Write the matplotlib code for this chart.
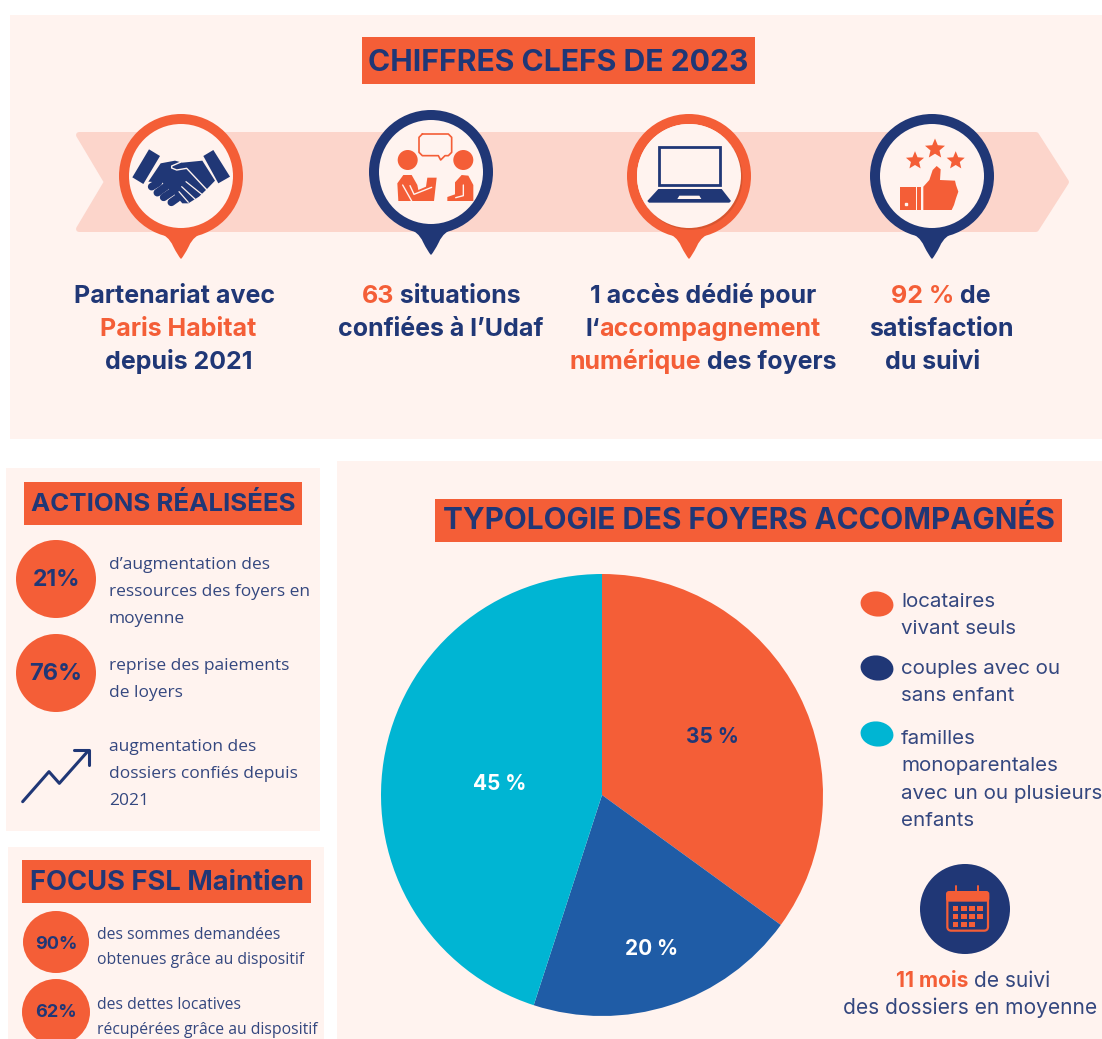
import numpy as np
import matplotlib
matplotlib.use('Agg')

import matplotlib.pyplot as plt
from matplotlib.patches import Circle, Ellipse, FancyBboxPatch, PathPatch, Polygon, Rectangle
from matplotlib.path import Path

ORANGE = '#F45E37'
NAVY = '#203776'
BLUE = '#1F5CA6'
CYAN = '#00B5D3'
PANEL = '#FFF3EF'
BAND = '#FCD5CB'
TEXT = '#34477F'

TITLE_FONT = 'Inter'
BODY_FONT = 'Open Sans'

# pie data
pie_values = [35, 20, 45]
pie_labels = ['35 %', '20 %', '45 %']
pie_colors = [ORANGE, BLUE, CYAN]
pie_label_colors = [NAVY, 'white', 'white']
pie_label_dist = [0.56, 0.72, 0.47]
pie_label_nudge = [0.009, -0.014, -0.023]

legend_labels = [
    ['locataires', 'vivant seuls'],
    ['couples avec ou', 'sans enfant'],
    ['familles', 'monoparentales', 'avec un ou plusieurs', 'enfants'],
]
legend_colors = [ORANGE, NAVY, CYAN]

actions_values = ['21%', '76%']
focus_values = ['90%', '62%']

fig = plt.figure(figsize=(11.02, 10.39), dpi=100, facecolor='white')
ax = fig.add_axes([0, 0, 1, 1])
ax.set_xlim(0, 1102)
ax.set_ylim(1039, 0)
ax.axis('off')


def text_width(s, **kw):
    # the bar keeps trailing and leading spaces in the measure
    r = fig.canvas.get_renderer()
    a = ax.text(0, 0, s + '|', **kw)
    b = ax.text(0, 0, '|', **kw)
    w = a.get_window_extent(r).width - b.get_window_extent(r).width
    a.remove()
    b.remove()
    return w


def rich_line(cx, base, runs, size, weight='bold', other=None):
    """One centred line of (string, colour) runs on a baseline."""
    weights = [weight if other is None or i == 0 else other for i in range(len(runs))]
    widths = [text_width(s, fontsize=size, family=TITLE_FONT, weight=w)
              for (s, _), w in zip(runs, weights)]
    x = cx - sum(widths) / 2
    for (s, col), w, wd in zip(runs, widths, weights):
        ax.text(x, base, s, color=col, fontsize=size, family=TITLE_FONT, weight=wd,
                ha='left', va='baseline')
        x += w


def panel(x0, y0, x1, y1, color=PANEL):
    ax.add_patch(Rectangle((x0, y0), x1 - x0, y1 - y0, fc=color, ec='none'))


def title_box(x0, y0, x1, y1, label, size, base):
    panel(x0, y0, x1, y1, ORANGE)
    ax.text((x0 + x1) / 2, base, label, color=NAVY, fontsize=size,
            family=TITLE_FONT, weight='bold', ha='center', va='baseline')


def pin(cx, cy, tip, color):
    ax.add_patch(Circle((cx, cy), 62, fc=color, ec='none', zorder=2))
    verts = [(cx - 26, cy + 54), (cx - 12, cy + 60), (cx - 8, tip - 12), (cx - 3, tip - 2),
             (cx, tip + 1), (cx + 3, tip - 2), (cx + 8, tip - 12), (cx + 12, cy + 60), (cx + 26, cy + 54)]
    codes = [Path.MOVETO] + [Path.CURVE3] * 8
    ax.add_patch(PathPatch(Path(verts, codes), fc=color, ec='none', zorder=2))
    ax.add_patch(Circle((cx, cy), 52, fc=PANEL, ec='none', zorder=3))


def zoom_pts(pts, ox, oy):
    return [(ox + x / 3, oy + y / 3) for x, y in pts]


def poly(pts, color, ox, oy, z=4):
    ax.add_patch(Polygon(zoom_pts(pts, ox, oy), closed=True, fc=color, ec='none', zorder=z))


def stroke(pts, color, lw, ox, oy, z=5):
    p = np.array(zoom_pts(pts, ox, oy))
    ax.plot(p[:, 0], p[:, 1], color=color, lw=lw, solid_capstyle='round',
            solid_joinstyle='round', zorder=z)


def star(cx, cy, r, color):
    ang = np.deg2rad(np.arange(10) * 36 - 90)
    rad = np.where(np.arange(10) % 2 == 0, r, r * 0.45)
    ax.add_patch(Polygon(np.c_[cx + rad * np.cos(ang), cy + rad * np.sin(ang)],
                         closed=True, fc=color, ec='none', zorder=4))


def handshake():
    ox, oy = 125, 140
    poly([(72, 28), (105, 48), (55, 132), (22, 112)], NAVY, ox, oy)
    poly([(265, 30), (315, 110), (280, 130), (235, 48)], NAVY, ox, oy)
    poly([(107, 70), (150, 62), (172, 68), (232, 62), (270, 122), (245, 148), (222, 170),
          (190, 190), (172, 190), (150, 165), (112, 128), (70, 125)], NAVY, ox, oy)
    # closed fingers on the left
    for a, b in [((80, 140), (100, 128)), ((97, 158), (122, 140)),
                 ((116, 172), (140, 156)), ((139, 187), (156, 175))]:
        stroke([a, b], NAVY, 5.5, ox, oy)
    # thumb and finger gaps
    stroke([(168, 66), (140, 78), (140, 84), (155, 90), (185, 85), (246, 150)], PANEL, 1.0, ox, oy)
    stroke([(183, 125), (233, 165)], PANEL, 0.9, ox, oy)
    stroke([(170, 140), (213, 180)], PANEL, 0.9, ox, oy)
    stroke([(162, 155), (190, 187)], PANEL, 0.9, ox, oy)


def people():
    ox, oy = 390, 125
    ax.add_patch(Circle((407.7, 160), 10, fc=ORANGE, ec='none', zorder=4))
    ax.add_patch(Circle((463.3, 160), 10, fc=ORANGE, ec='none', zorder=4))
    stroke([(97, 27), (175, 27), (185, 37), (185, 82), (175, 92), (165, 92), (152, 105),
            (145, 92), (97, 92), (87, 82), (87, 37), (97, 27)], ORANGE, 1.2, ox, oy)
    poly([(25, 228), (22, 175), (40, 150), (65, 150), (82, 180), (85, 195), (108, 185),
          (112, 158), (140, 158), (132, 228)], ORANGE, ox, oy)
    stroke([(38, 180), (65, 228)], PANEL, 1.0, ox, oy)
    stroke([(60, 182), (72, 208), (125, 187)], PANEL, 1.0, ox, oy)
    poly([(172, 228), (172, 216), (195, 208), (195, 172), (215, 150), (235, 152),
          (250, 180), (250, 228)], ORANGE, ox, oy)
    stroke([(220, 180), (220, 212), (197, 218)], PANEL, 1.0, ox, oy)


def laptop():
    ox, oy = 580, 100
    ax.add_patch(Rectangle((ox + 238 / 3, oy + 142 / 3), 182 / 3, 113 / 3, fc=PANEL, ec=NAVY,
                           lw=2, zorder=4))
    poly([(235, 267), (425, 267), (453, 303), (448, 308), (207, 308), (202, 303)], NAVY, ox, oy)
    poly([(298, 287), (358, 287), (364, 297), (292, 297)], PANEL, ox, oy, z=5)


def thumbs_up():
    ox, oy = 890, 130
    star(935, 149, 10.5, ORANGE)
    star(915, 160.7, 9.5, ORANGE)
    star(955.7, 160.7, 9.5, ORANGE)
    poly([(30, 170), (78, 170), (78, 240), (30, 240)], ORANGE, ox, oy)
    poly([(82, 170), (92, 170), (92, 240), (82, 240)], ORANGE, ox, oy)
    poly([(100, 170), (118, 150), (128, 120), (140, 108), (152, 118), (150, 150), (195, 152),
          (198, 165), (205, 185), (198, 205), (192, 225), (185, 240), (100, 240)], ORANGE, ox, oy)
    ax.plot([890 + 47 / 3], [130 + 222 / 3], 's', color=PANEL, ms=1.5, zorder=5)


def calendar():
    ox, oy = 840, 570
    ax.add_patch(Circle((965, 909), 45, fc=NAVY, ec='none', zorder=2))
    ax.add_patch(FancyBboxPatch((ox + 322 / 3, oy + 967 / 3), 122 / 3, 115 / 3,
                                boxstyle='round,pad=0,rounding_size=4', fc=NAVY, ec=ORANGE,
                                lw=1.6, zorder=3))
    ax.add_patch(FancyBboxPatch((ox + 318 / 3, oy + 963 / 3), 130 / 3, 32 / 3,
                                boxstyle='round,pad=0,rounding_size=3', fc=ORANGE, ec='none', zorder=4))
    for x in (348, 415):
        stroke([(x, 948), (x, 978)], ORANGE, 1.4, ox, oy)
    rows = [(1016, [347, 372, 396, 420]), (1040, [347, 372, 396, 420]), (1064, [347, 372, 396])]
    for y, xs in rows:
        for x in xs:
            ax.add_patch(Rectangle((ox + (x - 8) / 3, oy + (y - 8) / 3), 16 / 3, 16 / 3, fc=ORANGE,
                                   ec='none', zorder=5))


# panels
panel(10, 15, 1102, 439)
panel(6, 468, 320, 831)
panel(8, 847, 324, 1039)
panel(337, 461, 1102, 1039)

# band behind the pins, inset so the thick round edge gives soft corners
band_pts = [(79, 135), (1036, 135), (1066, 182), (1036, 229), (79, 229), (107, 182)]
ax.add_patch(Polygon(band_pts, closed=True, fc=BAND, ec=BAND, lw=4.3, joinstyle='round', zorder=1))

title_box(362, 37, 755, 84, 'CHIFFRES CLEFS DE 2023', 21.7, 71)
title_box(24, 482, 302, 525, 'ACTIONS RÉALISÉES', 18.6, 511)
title_box(435, 499, 1062, 542, 'TYPOLOGIE DES FOYERS ACCOMPAGNÉS', 21.4, 529)
title_box(22, 860, 311, 903, 'FOCUS FSL Maintien', 19.7, 890)

pin(181, 176, 258, ORANGE)
pin(431, 172, 254, NAVY)
# laptop pin has a soft shadow inside the ring
pin(689, 176, 258, ORANGE)
ax.add_patch(Circle((690.5, 177.8), 52, fc='#D8552F', ec='none', zorder=3))
ax.add_patch(Circle((689, 176), 52, fc=PANEL, ec='none', zorder=3))
pin(932, 176, 258, NAVY)
handshake()
people()
laptop()
thumbs_up()

# key figure captions
SZ = 18
rich_line(175, 303, [('Partenariat avec', NAVY)], SZ)
rich_line(178, 336, [('Paris Habitat', ORANGE)], SZ)
rich_line(179, 369, [('depuis 2021', NAVY)], SZ)
rich_line(441, 303, [('63', ORANGE), (' situations', NAVY)], SZ)
rich_line(441, 336, [('confiées à l’Udaf', NAVY)], SZ)
rich_line(703, 303, [('1 accès dédié pour', NAVY)], SZ)
rich_line(703, 336, [('l‘', NAVY), ('accompagnement', ORANGE)], SZ)
rich_line(703, 369, [('numérique', ORANGE), (' des foyers', NAVY)], SZ)
rich_line(941, 303, [('92 %', ORANGE), (' de', NAVY)], SZ)
rich_line(941, 336, [('satisfaction', NAVY)], SZ)
rich_line(933, 369, [('du suivi', NAVY)], SZ)

# actions
for val, y, base, size in zip(actions_values, [579, 673], [586, 680], [16.5, 17]):
    ax.add_patch(Ellipse((56, y), 80, 78, fc=ORANGE, ec='none', zorder=2))
    ax.text(56, base, val, color=NAVY, fontsize=size, family=TITLE_FONT, weight='bold',
            ha='center', va='baseline', zorder=3)
for s, base in [('d’augmentation des', 569), ('ressources des foyers en', 596), ('moyenne', 623),
                ('reprise des paiements', 670), ('de loyers', 697),
                ('augmentation des', 751), ('dossiers confiés depuis', 778), ('2021', 805)]:
    ax.text(109, base, s, color=TEXT, fontsize=12.5, family=BODY_FONT, ha='left', va='baseline')
stroke([(68, 1025), (147, 935), (178, 970), (265, 872)], NAVY, 2.2, 0, 460)
stroke([(222, 870), (268, 870), (268, 915)], NAVY, 2.2, 0, 460)

# focus
for val, y, base, w, h in zip(focus_values, [942, 1012], [949, 1017], [66, 68], [62, 66]):
    ax.add_patch(Ellipse((56, y), w, h, fc=ORANGE, ec='none', zorder=2))
    ax.text(56, base, val, color=NAVY, fontsize=13, family=TITLE_FONT, weight='bold',
            ha='center', va='baseline', zorder=3)
for s, base in [('des sommes demandées', 939), ('obtenues grâce au dispositif', 964),
                ('des dettes locatives', 1009), ('récupérées grâce au dispositif', 1034)]:
    ax.text(97, base, s, color=TEXT, fontsize=11.3, family=BODY_FONT, ha='left', va='baseline')

# legend
for lines, col, y0, yb in zip(legend_labels, legend_colors, [607, 674, 744], [604, 668, 734]):
    ax.add_patch(Ellipse((877, yb), 33, 25, angle=8, fc=col, ec='none'))
    for i, s in enumerate(lines):
        ax.text(901, y0 + i * 27.3, s, color=TEXT, fontsize=14.8, family=TITLE_FONT,
                ha='left', va='baseline')

calendar()
rich_line(973, 987, [('11 mois', ORANGE), (' de suivi', TEXT)], 15.1, other='normal')
ax.text(970, 1014, 'des dossiers en moyenne', color=TEXT, fontsize=15.1, family=TITLE_FONT,
        ha='center', va='baseline')

# pie in its own axes, pixel-aligned on the reference circle
pie_ax = fig.add_axes([(602 - 221) / 1102, (1039 - 795 - 221) / 1039, 442 / 1102, 442 / 1039])
wedges, _ = pie_ax.pie(pie_values, colors=pie_colors, startangle=90, counterclock=False, radius=1)
pie_ax.set_xlim(-1, 1)
pie_ax.set_ylim(-1, 1)
for w, lab, col, d, n in zip(wedges, pie_labels, pie_label_colors, pie_label_dist, pie_label_nudge):
    mid = np.deg2rad((w.theta1 + w.theta2) / 2)
    pie_ax.text(d * np.cos(mid), d * np.sin(mid) + n, lab, color=col, fontsize=15,
                family=TITLE_FONT, weight='bold', ha='center', va='center')

fig.savefig('out.png', dpi=100)
